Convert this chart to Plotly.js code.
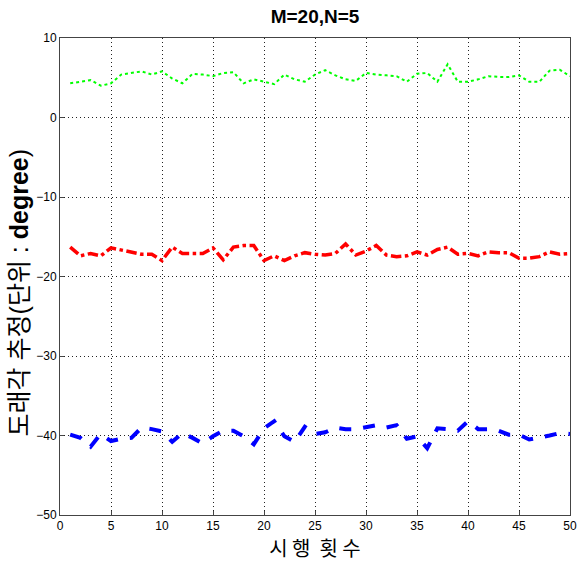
<!DOCTYPE html>
<html><head><meta charset="utf-8">
<script src="https://cdn.plot.ly/plotly-3.0.1.min.js"></script>
<style>body{margin:0;background:#fff}#c{width:578px;height:562px}</style>
</head><body><div id="c"></div>
<script>
const trials = Array.from({length:50},(_,i)=>i+1);
const green = [4.3,4.5,4.7,4.0,4.3,5.4,5.6,5.8,5.4,5.8,4.9,4.3,5.5,5.4,5.2,5.6,5.7,4.3,4.8,4.5,4.2,5.4,4.8,4.5,5.4,
               5.95,5.3,4.8,4.6,5.6,5.4,5.3,5.2,4.5,5.5,5.6,4.5,6.7,4.5,4.5,4.8,5.2,5.1,5.1,5.3,4.5,4.5,5.9,6.0,5.2];
const red = [-16.3,-17.4,-17.1,-17.4,-16.4,-16.7,-16.9,-17.2,-17.2,-18.0,-16.3,-17.1,-17.1,-17.1,-16.4,-17.9,-16.3,-16.1,-16.1,-18.0,-17.4,-18.0,-17.4,-17.0,-17.2,
             -17.3,-17.1,-15.9,-17.3,-16.8,-16.1,-17.3,-17.5,-17.4,-16.9,-17.3,-16.6,-16.3,-17.2,-17.1,-17.4,-16.9,-17.0,-17.0,-17.7,-17.7,-17.5,-16.9,-17.2,-17.1];
const blue = [-39.9,-40.3,-41.4,-39.8,-40.7,-40.4,-40.3,-39.0,-39.2,-39.5,-40.8,-39.7,-40.3,-41.0,-40.1,-39.4,-39.4,-40.1,-41.1,-39.1,-38.2,-40.1,-40.8,-38.9,-39.8,
              -39.6,-39.0,-39.2,-39.2,-38.9,-38.7,-39.0,-38.7,-40.4,-40.1,-41.6,-39.1,-39.2,-39.4,-38.2,-39.2,-39.2,-39.4,-39.9,-39.9,-40.5,-40.3,-40.0,-39.7,-39.8];
const xTicks = [0,5,10,15,20,25,30,35,40,45,50];
const yTicks = [-50,-40,-30,-20,-10,0,10];
const titleText = 'M=20,N=5';
const xTitle = '시 행  횟 수';
const yTitle = '도래각 추정(단위 : <b>degree</b>)';

const traces = [
  {x:trials,y:green,mode:'lines',line:{color:'#00ff00',width:2,dash:'dot'}},
  {x:trials,y:red,mode:'lines',line:{color:'#ff0000',width:3.5,dash:'dashdot'}},
  {x:trials,y:blue,mode:'lines',line:{color:'#0000ff',width:4,dash:'dash'}}
];
const axBase = {showline:true,mirror:true,linecolor:'#444',linewidth:1,
  showgrid:true,gridcolor:'#222',griddash:'1px,3px',gridwidth:1,zeroline:false,
  ticks:'inside',ticklen:4,tickcolor:'#444',ticklabeloverflow:'allow',
  tickfont:{family:'Liberation Sans, Arial',size:12,color:'#000'}};
const layout = {
  width:578,height:562,margin:{l:60,r:8,t:38,b:47},
  paper_bgcolor:'#fff',plot_bgcolor:'#fff',showlegend:false,
  title:{text:'<b>'+titleText+'</b>',x:0.545,xanchor:'center',y:0.971,yanchor:'middle',
    font:{family:'Liberation Sans, Arial',size:19,color:'#000'}},
  xaxis:Object.assign({},axBase,{range:[0,50],tickvals:xTicks,
    title:{text:xTitle,standoff:2,font:{family:'Noto Sans CJK KR',size:20,color:'#000'}}}),
  yaxis:Object.assign({},axBase,{range:[-50,10],tickvals:yTicks}),
  annotations:[{text:yTitle,textangle:-90,xref:'paper',yref:'paper',x:-0.08,y:0.465,
    xanchor:'center',yanchor:'middle',showarrow:false,
    font:{family:'Liberation Sans, Noto Sans CJK KR',size:25,color:'#000'}}]
};
Plotly.newPlot('c',traces,layout,{displayModeBar:false,staticPlot:true});
</script></body></html>
